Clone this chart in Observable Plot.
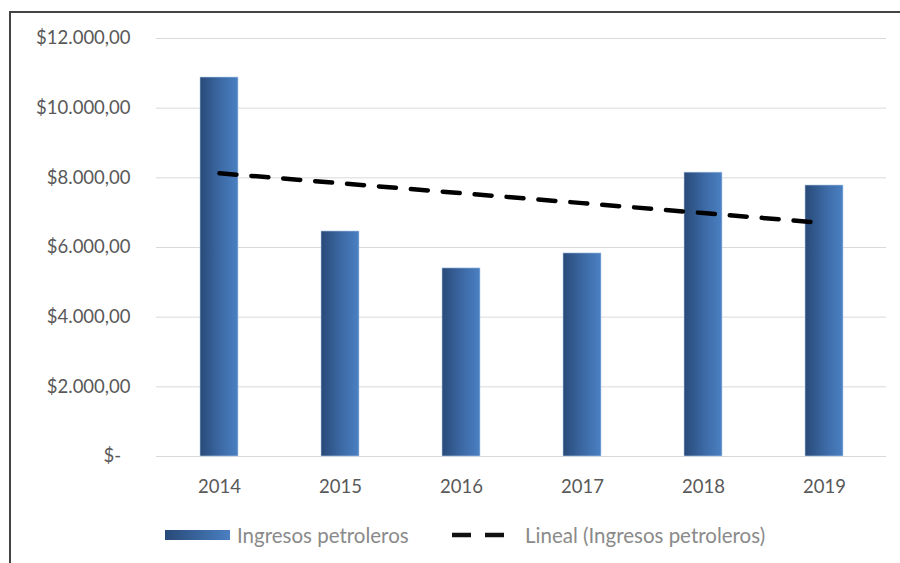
<!DOCTYPE html>
<html>
<head>
<meta charset="utf-8">
<script src="https://cdn.jsdelivr.net/npm/d3@7"></script>
<script src="https://cdn.jsdelivr.net/npm/@observablehq/plot@0.6"></script>
<style>
  html, body { margin: 0; padding: 0; background: #fff; width: 900px; height: 563px; overflow: hidden; }
  #wrap { position: relative; width: 900px; height: 563px; font-family: Lato, "Open Sans", sans-serif; }
  #frame { position: absolute; left: 9px; top: 11px; width: 900px; height: 600px; border-left: 2px solid #444; border-top: 2px solid #444; box-sizing: border-box; pointer-events: none; }
  #chart { position: absolute; left: 0; top: 0; }
  #legend { position: absolute; left: 0; top: 522px; width: 900px; height: 26px; }
  .lg { position: absolute; top: 0; font-size: 20.5px; color: #8a8a8a; line-height: 26px; white-space: nowrap; }
</style>
</head>
<body>
<div id="wrap">
  <div id="chart"></div>
  <div id="legend">
    <svg width="900" height="26" style="position:absolute;left:0;top:0">
      <defs>
        <linearGradient id="legGrad" x1="0" x2="1" y1="0" y2="0">
          <stop offset="0" stop-color="#284a78"/>
          <stop offset="1" stop-color="#4a7fc1"/>
        </linearGradient>
      </defs>
      <rect x="165" y="8" width="65" height="10" fill="url(#legGrad)"/>
      <line x1="452" x2="505" y1="13" y2="13" stroke="#111" stroke-width="4.5" stroke-dasharray="19,14"/>
    </svg>
    <div class="lg" id="lg1" style="left:237px">Ingresos petroleros</div>
    <div class="lg" id="lg2" style="left:525px">Lineal (Ingresos petroleros)</div>
  </div>
  <div id="frame"></div>
</div>
<script>
const years = ["2014", "2015", "2016", "2017", "2018", "2019"];
const ingresos = [10880, 6460, 5400, 5830, 8150, 7780];
const yTicks = [0, 2000, 4000, 6000, 8000, 10000, 12000];

const data = years.map((y, i) => ({year: y, value: ingresos[i]}));

// Linear trend (Excel "Lineal") fitted to the series
const n = ingresos.length;
const xs = d3.range(n);
const mx = d3.mean(xs), my = d3.mean(ingresos);
const slope = d3.sum(xs, (x, i) => (x - mx) * (ingresos[i] - my)) / d3.sum(xs, x => (x - mx) ** 2);
const intercept = my - slope * mx;
const trend = years.map((y, i) => ({year: y, value: intercept + slope * i}));

const loc = d3.formatLocale({decimal: ",", thousands: ".", grouping: [3], currency: ["$", ""]});
const fmt = loc.format("$,.2f");
const tickFmt = d => d === 0 ? "$-\u00a0\u00a0" : fmt(d);

const chart = Plot.plot({
  width: 900,
  height: 500,
  marginLeft: 156,
  marginRight: 14,
  marginTop: 38,
  marginBottom: 44,
  style: {fontFamily: "Lato, 'Open Sans', sans-serif", fontSize: "18.5px", color: "#595959", background: "transparent"},
  x: {domain: years, paddingInner: 0.69, paddingOuter: 0.345, label: null},
  y: {domain: [0, 12000], label: null},
  marks: [
    Plot.gridY(yTicks, {stroke: "#d9d9d9", strokeOpacity: 1, strokeWidth: 1}),
    Plot.barY(data, {x: "year", y: "value", fill: "url(#barGrad)", stroke: "#b9cfe9", strokeWidth: 0.6}),
    Plot.line(trend, {x: "year", y: "value", stroke: "#000", strokeWidth: 4.5, strokeDasharray: "17,15"}),
    Plot.axisX({tickSize: 0, tickPadding: 23, fontSize: 18.5}),
    Plot.axisY({ticks: yTicks, tickFormat: tickFmt, tickSize: 0, tickPadding: 26, fontSize: 18.5})
  ]
});

const ns = "http://www.w3.org/2000/svg";
const defs = document.createElementNS(ns, "defs");
defs.innerHTML = '<linearGradient id="barGrad" x1="0" x2="1" y1="0" y2="0">' +
  '<stop offset="0" stop-color="#284a78"/><stop offset="0.55" stop-color="#3d6aa6"/><stop offset="1" stop-color="#4a80c2"/></linearGradient>';
chart.insertBefore(defs, chart.firstChild);
document.getElementById("chart").appendChild(chart);
</script>
</body>
</html>
